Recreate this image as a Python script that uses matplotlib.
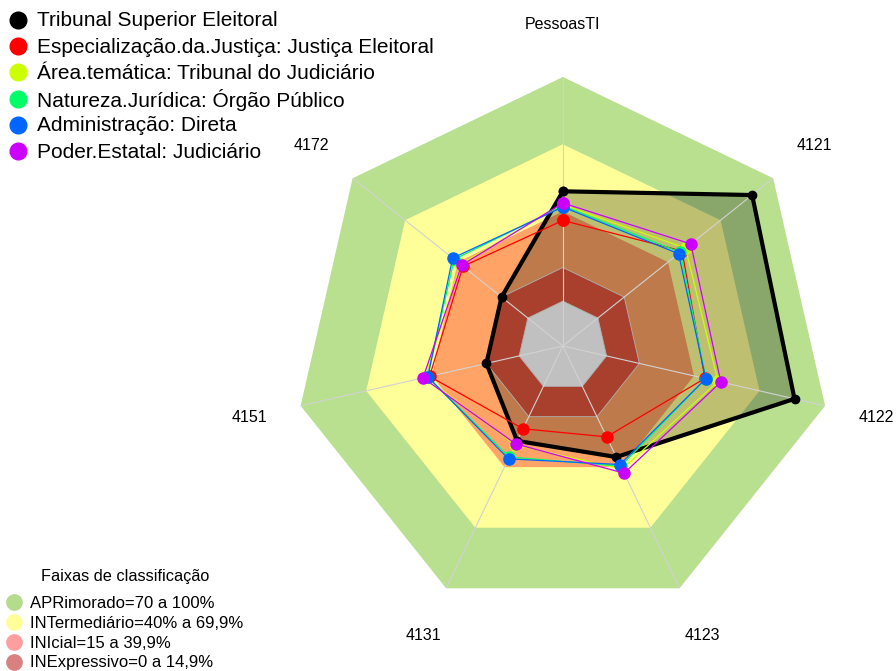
import numpy as np
import matplotlib
matplotlib.use('Agg')
import matplotlib.pyplot as plt

plt.rcParams['font.family'] = ['Liberation Sans', 'DejaVu Sans']

# === Dados ===
eixos = ['PessoasTI', '4121', '4122', '4123', '4131', '4151', '4172']

nomes = ['Tribunal Superior Eleitoral',
         'Especialização.da.Justiça: Justiça Eleitoral',
         'Área.temática: Tribunal do Judiciário',
         'Natureza.Jurídica: Órgão Público',
         'Administração: Direta',
         'Poder.Estatal: Judiciário']
cores = ['#000000', '#FF0000', '#CCFF00', '#00FF66', '#0066FF', '#CC00FF']

tse = [49, 88, 86, 35, 27, 15, 15]
especializacao = [36, 48, 45, 25, 21, 41, 37]
area_tematica = [43, 50, 51, 41, 29, 43, 38.5]
natureza = [42.5, 47, 45.5, 39.5, 35, 42, 42]
administracao = [42, 46, 45.4, 38.7, 35.9, 41.8, 42.9]
poder = [43.8, 53, 52.3, 43, 28.5, 44, 37.8]
series = [tse, especializacao, area_tematica, natureza, administracao, poder]

# faixas de classificacao
faixas_lim = [100, 70, 40, 15, 0]
faixas_cor = ['#B9E08F', '#FFFF99', '#FFA366', '#A8402D', '#C0C0C0']
faixas_nome = ['APRimorado=70 a 100%', 'INTermediário=40% a 69,9%',
               'INIcial=15 a 39,9%', 'INExpressivo=0 a 14,9%']
faixas_leg_cor = ['#B5DC8C', '#FFFF99', '#FF9E9E', '#D98080']

# === Figura ===
fig = plt.figure(figsize=(8.96, 6.71), dpi=100)
ax = fig.add_axes([0.328, 0.0835, 0.6004, 0.8018], projection='polar')
ax.set_theta_zero_location('N')
ax.set_theta_direction(-1)
ax.set_ylim(-20, 100)
ax.axis('off')

n = len(eixos)
theta = np.linspace(0, 2 * np.pi, n, endpoint=False)
th = np.append(theta, theta[0])

def fechar(v):
    return np.append(v, v[0])

# faixas externas
for lim, cor in zip(faixas_lim[:3], faixas_cor[:3]):
    ax.fill(th, fechar([lim] * n), color=cor, zorder=1, lw=0)

# preenchimento do TSE
ax.fill(th, fechar(tse), color='black', alpha=0.25, zorder=2, lw=0)

# faixas internas
for lim, cor in zip(faixas_lim[3:], faixas_cor[3:]):
    ax.fill(th, fechar([lim] * n), facecolor=cor, edgecolor='#B0B0B0',
            lw=0.6, zorder=3)

# raios
for t in theta:
    ax.plot([t, t], [-20, 100], color='#D2D2D2', lw=0.8, zorder=4)

# series
for i, (vals, cor) in enumerate(zip(series, cores)):
    if i == 0:
        ax.plot(th, fechar(vals), color=cor, lw=3, marker='o', ms=6,
                zorder=5)
    else:
        ax.plot(th, fechar(vals), color=cor, lw=0.9, marker='o', ms=8,
                zorder=5 + i)

# rotulos dos eixos
for t, lab in zip(theta, eixos):
    ax.text(t, 123.5, lab, ha='center', va='center', fontsize=11.5,
            clip_on=False)

# === Legendas (camada em pixels) ===
lg = fig.add_axes([0, 0, 1, 1])
lg.set_xlim(0, 896)
lg.set_ylim(671, 0)
lg.axis('off')

for i, (nome, cor) in enumerate(zip(nomes, cores)):
    y = 20 + 26.2 * i
    lg.plot(18, y, 'o', color=cor, ms=12)
    lg.text(37, y + 1, nome, ha='left', va='center', fontsize=15)

lg.text(125, 577, 'Faixas de classificação', ha='center', va='center',
        fontsize=11.7)
for i, (nome, cor) in enumerate(zip(faixas_nome, faixas_leg_cor)):
    y = 602 + 20 * i
    lg.plot(14, y, 'o', mfc=cor, mec=cor, ms=11)
    lg.text(30, y + 1, nome, ha='left', va='center', fontsize=12)

plt.savefig('out.png', dpi=100)
